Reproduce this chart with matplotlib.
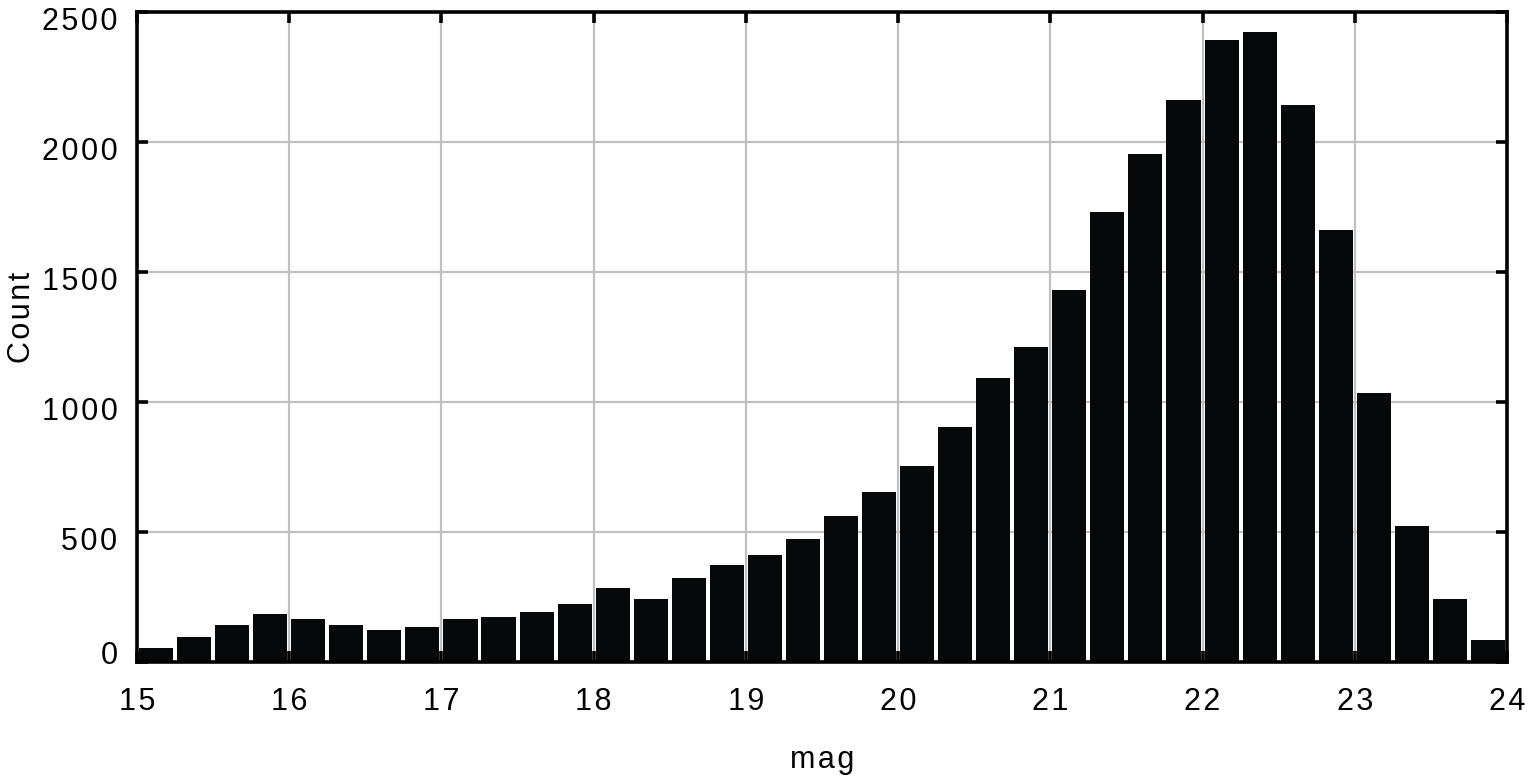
import numpy as np
import matplotlib
matplotlib.use("Agg")
import matplotlib.pyplot as plt
import matplotlib.transforms as mtrans
from matplotlib.ticker import FuncFormatter

# histogram of mag, bins of 0.25 from 15 to 24 (counts)
bin_left = [15.0 + 0.25 * i for i in range(36)]
counts = [54, 95, 142, 185, 165, 142, 123, 135, 165, 173,
          192, 223, 285, 242, 323, 373, 412, 473, 562, 654,
          754, 904, 1092, 1212, 1431, 1731, 1954, 2162, 2392, 2423,
          2142, 1662, 1035, 523, 242, 85]
xticks = [15, 16, 17, 18, 19, 20, 21, 22, 23, 24]
yticks = [0, 500, 1000, 1500, 2000, 2500]

plt.rcParams['font.family'] = ['Liberation Sans', 'DejaVu Sans']
HS = '\u200a'


def spaced(s):
    return HS.join(s)


fig = plt.figure(figsize=(15.31, 7.76), dpi=100)
ax = fig.add_axes([0.0895, 0.1469, 0.8948, 0.8376])

centers = np.array(bin_left) + 0.125
ax.bar(centers, counts, width=0.224, color='#070809', linewidth=0, zorder=2)

ax.set_xlim(15, 24)
ax.set_ylim(0, 2500)
ax.set_xticks(xticks)
ax.set_yticks(yticks)
ax.xaxis.set_major_formatter(FuncFormatter(lambda v, p: spaced('%d' % v)))
ax.yaxis.set_major_formatter(FuncFormatter(lambda v, p: spaced('%d' % v)))

ax.set_axisbelow(True)
ax.grid(True, color='#c0c0c0', linewidth=1.6)
for s in ax.spines.values():
    s.set_linewidth(2.6)
    s.set_color('black')
ax.tick_params(direction='in', length=8, width=2.6, top=True, right=True,
               labelsize=22, colors='black')
ax.tick_params(axis='x', pad=18)
ax.tick_params(axis='y', pad=14)

# y labels sit a bit below their ticks, the 0 one is lifted
fig.canvas.draw()
for lab in ax.get_yticklabels():
    dy = -6 if lab.get_text() != '0' else 10
    lab.set_transform(lab.get_transform() +
                      mtrans.ScaledTranslation(0, dy / 100, fig.dpi_scale_trans))

ax.set_xlabel(spaced('mag'), fontsize=22, labelpad=20)
ax.set_ylabel(spaced('Count'), fontsize=22, va='center')
ax.yaxis.set_label_coords(-0.084, 0.53)

fig.savefig('out.png', dpi=100)
